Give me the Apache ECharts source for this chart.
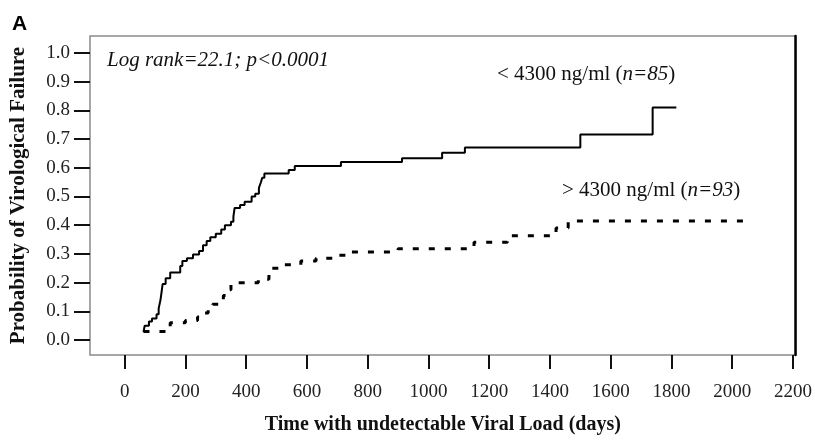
<!DOCTYPE html>
<html>
<head>
<meta charset="utf-8">
<script src="https://cdn.jsdelivr.net/npm/echarts@6/dist/echarts.min.js"></script>
<style>
  html, body { margin: 0; padding: 0; background: #fff; }
  #chart { width: 815px; height: 440px; }
</style>
</head>
<body>
<div id="chart"></div>
<script>
// Kaplan–Meier estimate of virological failure, split by viral load group
const xTicks = [0, 200, 400, 600, 800, 1000, 1200, 1400, 1600, 1800, 2000, 2200];
const yTicks = [0, 0.1, 0.2, 0.3, 0.4, 0.5, 0.6, 0.7, 0.8, 0.9, 1.0];

// < 4300 ng/ml group (n=85): day of each step and probability after it
const lowDays = [62, 66, 80, 90, 105, 112, 118, 122, 125, 135, 150, 183, 190, 205, 225, 245, 258, 270, 282, 300,
  318, 330, 350, 358, 362, 380, 395, 418, 430, 442, 448, 453, 460, 540, 560, 712, 913, 1045, 1120, 1500, 1738, 1816];
const lowProb = [0.028, 0.050, 0.065, 0.075, 0.090, 0.110, 0.140, 0.170, 0.195, 0.215, 0.235, 0.258, 0.275, 0.285,
  0.298, 0.310, 0.330, 0.345, 0.358, 0.370, 0.385, 0.400, 0.412, 0.430, 0.460, 0.470, 0.482, 0.500, 0.510, 0.530,
  0.548, 0.565, 0.580, 0.592, 0.606, 0.620, 0.633, 0.652, 0.671, 0.716, 0.810, 0.810];

// > 4300 ng/ml group (n=93)
const highDays = [62, 140, 150, 200, 240, 255, 275, 290, 310, 325, 340, 350, 440, 475, 520, 580, 630, 690, 740,
  900, 1150, 1260, 1420, 1460, 2050];
const highProb = [0.030, 0.045, 0.060, 0.068, 0.080, 0.094, 0.110, 0.125, 0.140, 0.155, 0.175, 0.200, 0.212,
  0.250, 0.262, 0.275, 0.285, 0.295, 0.307, 0.318, 0.341, 0.363, 0.390, 0.415, 0.415];

const pairs = (xs, ys) => xs.map((x, i) => [x, ys[i]]);

const serif = '"Liberation Serif", "Times New Roman", serif';
const chart = echarts.init(document.getElementById('chart'));

chart.setOption({
  animation: false,
  backgroundColor: '#fff',
  grid: {
    left: 88, right: 15, top: 36, bottom: 82,
    show: true, borderColor: '#8a8a8a', borderWidth: 1.5, backgroundColor: 'transparent'
  },
  xAxis: {
    type: 'value',
    min: -114, max: 2209,
    name: 'Time with undetectable Viral Load (days)',
    nameLocation: 'middle',
    nameGap: 60,
    nameTextStyle: { fontFamily: serif, fontWeight: 'bold', fontSize: 20, color: '#111' },
    axisLine: { show: false, onZero: false },
    splitLine: { show: false },
    axisTick: {
      show: true, length: 14, customValues: xTicks,
      lineStyle: { color: '#111', width: 2 }
    },
    axisLabel: {
      customValues: xTicks, margin: 28,
      formatter: v => String(v),
      fontFamily: serif, fontSize: 19, color: '#222'
    }
  },
  yAxis: [{
    type: 'value',
    min: -0.052, max: 1.059,
    name: 'Probability of Virological Failure',
    nameLocation: 'middle',
    nameGap: 61,
    nameTextStyle: { fontFamily: serif, fontWeight: 'bold', fontSize: 21, color: '#111' },
    axisLine: { show: false, onZero: false },
    splitLine: { show: false },
    axisTick: {
      show: true, length: 16, customValues: yTicks,
      lineStyle: { color: '#111', width: 2 }
    },
    axisLabel: {
      customValues: yTicks, margin: 20,
      formatter: v => v.toFixed(1),
      fontFamily: serif, fontSize: 19, color: '#222'
    }
  }, {
    type: 'value',
    position: 'right',
    min: -0.052, max: 1.059,
    axisLine: { show: true, onZero: false, lineStyle: { color: '#000', width: 2.5 } },
    axisTick: { show: false },
    axisLabel: { show: false },
    splitLine: { show: false }
  }],
  series: [{
    name: '< 4300 ng/ml',
    type: 'line',
    step: 'end',
    symbol: 'none',
    data: pairs(lowDays, lowProb),
    lineStyle: { color: '#000', width: 2 }
  }, {
    name: '> 4300 ng/ml',
    type: 'line',
    step: 'end',
    symbol: 'none',
    data: pairs(highDays, highProb),
    lineStyle: { color: '#000', width: 3, type: [6, 10], cap: 'butt' }
  }],
  graphic: [{
    type: 'text', left: 12, top: 14,
    style: { text: 'A', font: 'bold 21px "Liberation Sans", Arial, sans-serif', fill: '#000' }
  }, {
    type: 'text', left: 107, top: 50,
    style: { text: 'Log rank=22.1; p<0.0001', font: 'italic 21px ' + serif, fill: '#111' }
  }, {
    type: 'text', left: 497, top: 64,
    style: {
      text: '< 4300 ng/ml ({i|n=85})',
      font: '21px ' + serif, fill: '#111',
      rich: { i: { fontStyle: 'italic', fontFamily: serif, fontSize: 21, fill: '#111' } }
    }
  }, {
    type: 'text', left: 562, top: 180,
    style: {
      text: '> 4300 ng/ml ({i|n=93})',
      font: '21px ' + serif, fill: '#111',
      rich: { i: { fontStyle: 'italic', fontFamily: serif, fontSize: 21, fill: '#111' } }
    }
  }]
});
</script>
</body>
</html>
